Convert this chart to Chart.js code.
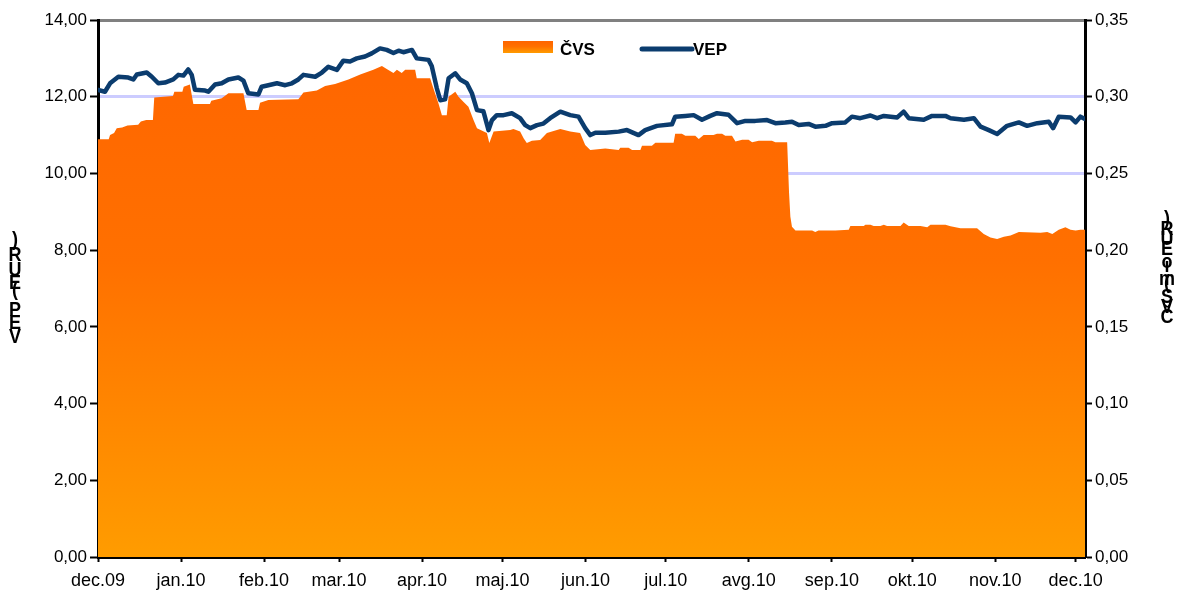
<!DOCTYPE html>
<html>
<head>
<meta charset="utf-8">
<script src="https://cdn.jsdelivr.net/npm/chart.js@4.4.1/dist/chart.umd.min.js"></script>
<style>
  html, body { margin: 0; padding: 0; background: #fff; }
  #wrap { width: 1179px; height: 603px; }
</style>
</head>
<body>
<div id="wrap"><canvas id="mainChart"></canvas></div>
<script>
// x axis: days since 1 Dec 2009, ticks at month starts
const monthLabels = ["dec.09", "jan.10", "feb.10", "mar.10", "apr.10", "maj.10", "jun.10",
  "jul.10", "avg.10", "sep.10", "okt.10", "nov.10", "dec.10"];
const monthDays = [0, 31, 62, 90, 121, 151, 182, 212, 243, 274, 304, 335, 365];

const leftTicks = [0, 2, 4, 6, 8, 10, 12, 14];

// ČVS (mio EUR) - right axis
const cvsDays = [0, 4, 4.5, 6, 7, 9, 11, 15, 16, 18, 20.5, 21, 28, 28.5, 31.5, 32, 34.3, 35.6,
  41.8, 42.3, 46.2, 48.7, 54.3, 55.5, 59.9, 60.5, 63.6, 74.8, 76.7, 81.7, 84.8, 88.5, 93.5,
  97.9, 102.8, 106, 107.8, 110.3, 111.6, 113.4, 114.7, 118.4, 119, 124, 125.3, 127.1, 128.4,
  130.2, 130.9, 133.4, 134.6, 136.5, 138.3, 140.2, 141.5, 145.2, 146.1, 147.7, 153.9, 155.1,
  157.6, 158.9, 160.1, 162, 165.1, 167.6, 172.6, 176.3, 180, 181.9, 183.8, 189.4, 194.4, 195,
  198.1, 199.4, 202.5, 203.1, 206.8, 208.1, 214.9, 215.5, 218, 219.3, 223, 224.3, 226.1, 229.8,
  231.1, 233, 234.2, 236.7, 238, 240.5, 242.9, 244.2, 246.7, 251.6, 252.9, 257.3, 258, 258.5,
  259.1, 260.4, 266.6, 267.8, 269, 275.3, 280.3, 280.9, 285.9, 286.5, 288.4, 289.6, 292.1,
  293.4, 294.6, 299.6, 300.8, 302.7, 307.1, 309.6, 310.8, 316.4, 318.3, 322, 328.2, 330.7,
  333.2, 335.7, 338.2, 340.7, 343.8, 351.9, 354.4, 356.3, 358.7, 361.2, 363.1, 365, 366.8, 368.5];
const cvsValues = [0.2723, 0.2723, 0.2750, 0.2763, 0.2795, 0.2800, 0.2813, 0.2818, 0.2838, 0.2848,
  0.2848, 0.2995, 0.3005, 0.3033, 0.3033, 0.3065, 0.3080, 0.2953,
  0.2953, 0.2973, 0.2990, 0.3023, 0.3023, 0.2913, 0.2913, 0.2960, 0.2978, 0.2983, 0.3028,
  0.3040, 0.3070, 0.3083, 0.3113,
  0.3145, 0.3175, 0.3200, 0.3180, 0.3155, 0.3175, 0.3155, 0.3175, 0.3175, 0.3120, 0.3120,
  0.3050, 0.2958, 0.2880,
  0.2880, 0.3000, 0.3033, 0.3000, 0.2965, 0.2935, 0.2848, 0.2795, 0.2763, 0.2698, 0.2773,
  0.2783, 0.2790,
  0.2773, 0.2730, 0.2698, 0.2713, 0.2718, 0.2763, 0.2790, 0.2773, 0.2763, 0.2685, 0.2653,
  0.2663, 0.2653, 0.2668,
  0.2668, 0.2653, 0.2653, 0.2680, 0.2680, 0.2700, 0.2700, 0.2758, 0.2758, 0.2745, 0.2745,
  0.2725, 0.2750, 0.2750,
  0.2758, 0.2758, 0.2745, 0.2745, 0.2708, 0.2720, 0.2720, 0.2703, 0.2713, 0.2713, 0.2703,
  0.2703, 0.2375, 0.2218,
  0.2153, 0.2128, 0.2128, 0.2118, 0.2128, 0.2128, 0.2133, 0.2158, 0.2158, 0.2165, 0.2165,
  0.2158, 0.2158,
  0.2165, 0.2158, 0.2158, 0.2180, 0.2158, 0.2158, 0.2150, 0.2165, 0.2165, 0.2155, 0.2143,
  0.2143, 0.2105,
  0.2083, 0.2073, 0.2088, 0.2095, 0.2118, 0.2113, 0.2118, 0.2105, 0.2133, 0.2150, 0.2133,
  0.2128, 0.2133, 0.2133];

// VEP (EUR) - left axis
const vepDays = [0, 2.6, 4.5, 7.6, 11.3, 13.2, 14.5, 18.2, 20.1, 22.5, 25, 28.1, 30, 31.9, 33.7,
  35, 36.2, 40, 41.2, 43.7, 46.2, 48.7, 52.4, 54.3, 56.1, 59.9, 61.1, 63.6, 66.8, 69.9, 72.4,
  74.8, 76.7, 81.1, 83.6, 86, 89.2, 91.6, 94.1, 96.6, 99.7, 102.2, 105.3, 107.8, 110.3, 112.2,
  114, 117.2, 119, 123.4, 124.6, 126.5, 127.8, 129.6, 130.9, 133.4, 135.2, 137.7, 139.6, 141.5,
  143.9, 145.8, 147.1, 148.9, 151.4, 154.5, 157.6, 159.5, 161.4, 163.9, 166.3, 168.8, 172.6,
  176.3, 179.4, 181.9, 183.8, 185.7, 189.4, 194.4, 197.5, 201.8, 204.3, 208.7, 214.3, 215.5,
  219.3, 222.4, 225.5, 228.6, 231.1, 235.4, 238.6, 241.7, 245.4, 249.8, 252.9, 256.6, 259.1,
  261.6, 265.3, 267.8, 271.6, 274.1, 279, 281.5, 284.6, 288.4, 290.9, 293.4, 298.4, 300.8,
  302.7, 308.3, 311.4, 316.4, 318.3, 323.3, 327, 329.5, 332.6, 335.7, 339.4, 343.8, 346.9,
  350.7, 355, 356.6, 358.7, 363.1, 365, 366.8, 368.5];
const vepValues = [12.18, 12.13, 12.35, 12.52, 12.50, 12.45, 12.58, 12.63, 12.52, 12.35, 12.37,
  12.45, 12.57, 12.55, 12.71,
  12.57, 12.18, 12.16, 12.13, 12.32, 12.35, 12.45, 12.50, 12.42, 12.09, 12.06, 12.26, 12.30,
  12.35, 12.30, 12.35,
  12.45, 12.57, 12.52, 12.63, 12.78, 12.70, 12.94, 12.92, 13.00, 13.05, 13.13, 13.26, 13.22,
  13.14, 13.20,
  13.16, 13.22, 13.00, 12.96, 12.80, 12.22, 11.91, 11.93, 12.48, 12.61, 12.45, 12.35, 12.09,
  11.65,
  11.62, 11.13, 11.39, 11.52, 11.52, 11.57, 11.44, 11.26, 11.18, 11.26, 11.30, 11.44, 11.61,
  11.52, 11.48, 11.18, 11.00, 11.06, 11.06, 11.09, 11.13, 11.00, 11.13, 11.24, 11.28, 11.48,
  11.50, 11.52, 11.40, 11.50, 11.57, 11.53, 11.31, 11.37, 11.37, 11.39, 11.31, 11.33, 11.35,
  11.26, 11.29, 11.22, 11.24, 11.31, 11.33, 11.48, 11.44, 11.51, 11.44, 11.50, 11.46, 11.61,
  11.44, 11.40, 11.50, 11.50, 11.44, 11.40, 11.44, 11.22, 11.13, 11.03, 11.24, 11.33, 11.24,
  11.31, 11.35, 11.18, 11.48, 11.46, 11.33, 11.48, 11.42];

const FONT = "'Liberation Sans', Arial, sans-serif";

function orangeFill(ctx, area) {
  const g = ctx.createLinearGradient(0, area.top, 0, area.bottom);
  g.addColorStop(0, "#ff6400");
  g.addColorStop(0.45, "#ff7000");
  g.addColorStop(1, "#ff9c00");
  return g;
}

// stacked (letter above letter) axis titles, as in the original
function drawStacked(ctx, text, x, yBottom, k) {
  ctx.save();
  ctx.font = "bold 18px " + FONT;
  ctx.fillStyle = "#000";
  ctx.textAlign = "center";
  ctx.textBaseline = "alphabetic";
  let y = yBottom;
  for (const ch of text) {
    const w = ctx.measureText(ch).width;
    if (ch !== " ") {
      ctx.save();
      ctx.translate(x, y);
      ctx.scale(1, 1.15);
      ctx.fillText(ch, 0, 0);
      ctx.restore();
    }
    y -= w * k;
  }
  ctx.restore();
}

const extras = {
  id: "extras",
  afterDraw(chart) {
    const ctx = chart.ctx;
    // legend
    ctx.save();
    ctx.fillStyle = orangeFill(ctx, { top: 41, bottom: 53 });
    ctx.fillRect(503, 41, 50, 12);
    ctx.strokeStyle = "#0b3c6e";
    ctx.lineWidth = 5;
    ctx.lineCap = "round";
    ctx.beginPath();
    ctx.moveTo(642, 49);
    ctx.lineTo(692, 49);
    ctx.stroke();
    ctx.fillStyle = "#000";
    ctx.font = "bold 17px " + FONT;
    ctx.textBaseline = "middle";
    ctx.fillText("ČVS", 560, 50);
    ctx.fillText("VEP", 693, 50);
    ctx.restore();

    drawStacked(ctx, "VEP (EUR)", 15, 343, 1.14);
    drawStacked(ctx, "ČVS (mio EUR)", 1167, 323, 0.8);
  }
};

document.addEventListener("DOMContentLoaded", function () {
  const ctx = document.getElementById("mainChart").getContext("2d");

  new Chart(ctx, {
    type: "line",
    data: {
      datasets: [
        {
          label: "VEP",
          data: vepDays.map((d, i) => ({ x: d, y: vepValues[i] })),
          yAxisID: "y",
          borderColor: "#0b3c6e",
          borderWidth: 4.5,
          borderJoinStyle: "round",
          borderCapStyle: "round",
          pointRadius: 0,
          fill: false,
          tension: 0,
          order: 0,
        },
        {
          label: "ČVS",
          data: cvsDays.map((d, i) => ({ x: d, y: cvsValues[i] })),
          yAxisID: "y2",
          borderWidth: 0,
          borderColor: "rgba(0,0,0,0)",
          pointRadius: 0,
          fill: "origin",
          backgroundColor: (c) => {
            const area = c.chart.chartArea;
            if (!area) return "#ff7000";
            return orangeFill(c.chart.ctx, area);
          },
          tension: 0,
          order: 1,
        },
      ],
    },
    options: {
      responsive: true,
      maintainAspectRatio: false,
      animation: false,
      layout: { padding: { top: 20, left: 0, right: 0, bottom: 0 } },
      plugins: {
        legend: { display: false },
        tooltip: { enabled: false },
      },
      scales: {
        x: {
          type: "linear",
          min: 0,
          max: 368.5,
          afterBuildTicks: (scale) => {
            scale.ticks = monthDays.map((v) => ({ value: v }));
          },
          afterFit: (scale) => { scale.height = 46; },
          border: { color: "#000", width: 3 },
          grid: {
            drawOnChartArea: false,
            tickColor: "#000",
            tickWidth: 2,
            tickLength: 5,
          },
          ticks: {
            autoSkip: false,
            maxRotation: 0,
            padding: 8,
            color: "#000",
            font: { family: FONT, size: 18 },
            callback: (v) => monthLabels[monthDays.indexOf(v)],
          },
        },
        y: {
          position: "left",
          min: 0,
          max: 14,
          afterBuildTicks: (scale) => {
            scale.ticks = leftTicks.map((v) => ({ value: v }));
          },
          afterFit: (scale) => { scale.width = 98; },
          border: { color: "#000", width: 3 },
          grid: {
            color: (c) => (c.tick && c.tick.value === 14 ? "#808080" : "#ccccff"),
            lineWidth: 3,
            tickColor: "#000",
            tickWidth: 2,
            tickLength: 8,
          },
          ticks: {
            padding: 3,
            color: "#000",
            font: { family: FONT, size: 17 },
            callback: (v) => v.toFixed(2).replace(".", ","),
          },
        },
        y2: {
          position: "right",
          min: 0,
          max: 0.35,
          afterBuildTicks: (scale) => {
            scale.ticks = leftTicks.map((v) => ({ value: v / 40 }));
          },
          afterFit: (scale) => { scale.width = 94; },
          border: { color: "#000", width: 3 },
          grid: {
            drawOnChartArea: false,
            tickColor: "#000",
            tickWidth: 2,
            tickLength: 7,
          },
          ticks: {
            padding: 3,
            color: "#000",
            font: { family: FONT, size: 17 },
            callback: (v) => v.toFixed(2).replace(".", ","),
          },
        },
      },
    },
    plugins: [extras],
  });
});
</script>
</body>
</html>
